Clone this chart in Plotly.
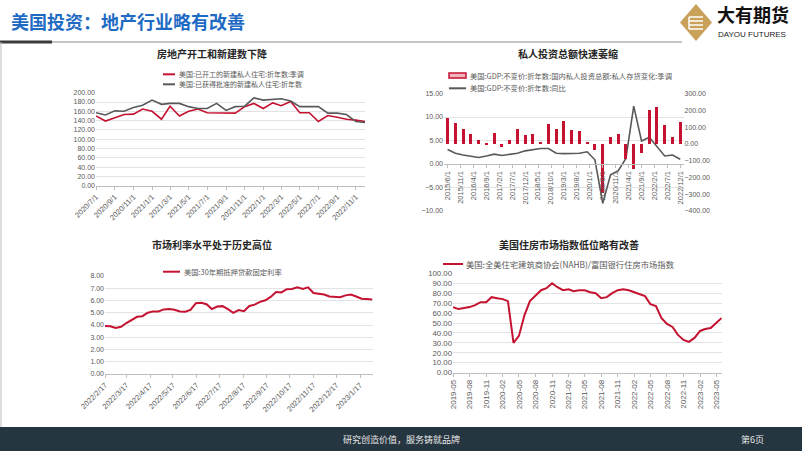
import plotly.graph_objects as go

W, H = 802, 451


def px(x):
    return x / W


def py(y):
    return 1 - y / H


RED = "#c41230"
GRAY_LINE = "#595959"
TICK_FONT = dict(family="Liberation Sans, Arial", size=7, color="#595959")
CJK = "Noto Sans CJK SC"

# ---- chart 1: housing starts / permits (monthly) ----
starts_dates = [
    "2020-07-01", "2020-08-01", "2020-09-01", "2020-10-01", "2020-11-01", "2020-12-01",
    "2021-01-01", "2021-02-01", "2021-03-01", "2021-04-01", "2021-05-01", "2021-06-01",
    "2021-07-01", "2021-08-01", "2021-09-01", "2021-10-01", "2021-11-01", "2021-12-01",
    "2022-01-01", "2022-02-01", "2022-03-01", "2022-04-01", "2022-05-01", "2022-06-01",
    "2022-07-01", "2022-08-01", "2022-09-01", "2022-10-01", "2022-11-01", "2022-12-01",
]
housing_starts = [150, 139, 146, 153, 154, 165, 160, 143, 171, 150, 160, 165,
                  157, 157, 156, 156, 170, 177, 166, 178, 172, 181, 157, 157,
                  138, 151, 147, 143, 141, 138]
building_permits = [157, 152, 161, 160, 168, 173, 184, 175, 177, 177, 170, 166,
                    166, 177, 162, 170, 171, 189, 184, 185, 187, 182, 170, 170,
                    170, 156, 156, 153, 138, 136]
c1_tickvals = ["2020-07-01", "2020-09-01", "2020-11-01", "2021-01-01", "2021-03-01",
               "2021-05-01", "2021-07-01", "2021-09-01", "2021-11-01", "2022-01-01",
               "2022-03-01", "2022-05-01", "2022-07-01", "2022-09-01", "2022-11-01"]
c1_ticktext = ["2020/7/1", "2020/9/1", "2020/11/1", "2021/1/1", "2021/3/1", "2021/5/1",
               "2021/7/1", "2021/9/1", "2021/11/1", "2022/1/1", "2022/3/1", "2022/5/1",
               "2022/7/1", "2022/9/1", "2022/11/1"]

# ---- chart 2: GDP inventories (bars, right) and GDP yoy (line, left) ----
gdp_dates = [
    "2015-06-01", "2015-09-01", "2015-12-01", "2016-03-01", "2016-06-01", "2016-09-01",
    "2016-12-01", "2017-03-01", "2017-06-01", "2017-09-01", "2017-12-01", "2018-03-01",
    "2018-06-01", "2018-09-01", "2018-12-01", "2019-03-01", "2019-06-01", "2019-09-01",
    "2019-12-01", "2020-03-01", "2020-06-01", "2020-09-01", "2020-12-01", "2021-03-01",
    "2021-06-01", "2021-09-01", "2021-12-01", "2022-03-01", "2022-06-01", "2022-09-01",
    "2022-12-01",
]
inventory_change = [160, 130, 94, 64, 28, 8, 70, -16, 24, 92, 58, 64,
                    12, 120, 92, 140, 88, 78, 12, -36, -290, 44, 64, -85,
                    -145, -50, 204, 220, 114, 44, 136]
gdp_yoy = [3.1, 2.3, 1.9, 1.7, 1.4, 1.7, 2.1, 1.8, 2.1, 2.3, 2.8, 3.0,
           3.3, 3.3, 2.3, 2.2, 2.2, 2.3, 2.6, 0.9, -8.4, -2.3, -1.4, 1.2,
           12.3, 4.9, 5.7, 3.6, 1.7, 1.9, 1.0]
c2_tickvals = ["2015-06-01", "2015-11-01", "2016-04-01", "2016-09-01", "2017-02-01",
               "2017-07-01", "2017-12-01", "2018-05-01", "2018-10-01", "2019-03-01",
               "2019-08-01", "2020-01-01", "2020-06-01", "2020-11-01", "2021-04-01",
               "2021-09-01", "2022-02-01", "2022-07-01", "2022-12-01"]
c2_ticktext = ["2015/6/1", "2015/11/1", "2016/4/1", "2016/9/1", "2017/2/1", "2017/7/1",
               "2017/12/1", "2018/5/1", "2018/10/1", "2019/3/1", "2019/8/1", "2020/1/1",
               "2020/6/1", "2020/11/1", "2021/4/1", "2021/9/1", "2022/2/1", "2022/7/1",
               "2022/12/1"]

# ---- chart 3: 30y mortgage rate (weekly) ----
mortgage_dates = [
    "2022-02-17", "2022-02-24", "2022-03-03", "2022-03-10", "2022-03-17", "2022-03-24",
    "2022-03-31", "2022-04-07", "2022-04-14", "2022-04-21", "2022-04-28", "2022-05-05",
    "2022-05-12", "2022-05-19", "2022-05-26", "2022-06-02", "2022-06-09", "2022-06-16",
    "2022-06-23", "2022-06-30", "2022-07-07", "2022-07-14", "2022-07-21", "2022-07-28",
    "2022-08-04", "2022-08-11", "2022-08-18", "2022-08-25", "2022-09-01", "2022-09-08",
    "2022-09-15", "2022-09-22", "2022-09-29", "2022-10-06", "2022-10-13", "2022-10-20",
    "2022-10-27", "2022-11-03", "2022-11-10", "2022-11-17", "2022-11-23", "2022-12-01",
    "2022-12-08", "2022-12-15", "2022-12-22", "2022-12-29", "2023-01-05", "2023-01-12",
    "2023-01-19", "2023-01-26", "2023-02-02",
]
mortgage_rate = [3.92, 3.89, 3.76, 3.85, 4.16, 4.42, 4.67, 4.72, 5.00, 5.11, 5.10, 5.27,
                 5.30, 5.25, 5.10, 5.09, 5.23, 5.78, 5.81, 5.70, 5.30, 5.51, 5.54, 5.30,
                 4.99, 5.22, 5.13, 5.55, 5.66, 5.89, 6.02, 6.29, 6.70, 6.66, 6.92, 6.94,
                 7.08, 6.95, 7.08, 6.61, 6.58, 6.49, 6.33, 6.31, 6.27, 6.42, 6.48, 6.33,
                 6.15, 6.13, 6.09]
c3_tickvals = ["2022-02-17", "2022-03-17", "2022-04-17", "2022-05-17", "2022-06-17",
               "2022-07-17", "2022-08-17", "2022-09-17", "2022-10-17", "2022-11-17",
               "2022-12-17", "2023-01-17"]
c3_ticktext = ["2022/2/17", "2022/3/17", "2022/4/17", "2022/5/17", "2022/6/17",
               "2022/7/17", "2022/8/17", "2022/9/17", "2022/10/17", "2022/11/17",
               "2022/12/17", "2023/1/17"]

# ---- chart 4: NAHB housing market index (monthly) ----
nahb_dates = [
    "2019-05-01", "2019-06-01", "2019-07-01", "2019-08-01", "2019-09-01", "2019-10-01",
    "2019-11-01", "2019-12-01", "2020-01-01", "2020-02-01", "2020-03-01", "2020-04-01",
    "2020-05-01", "2020-06-01", "2020-07-01", "2020-08-01", "2020-09-01", "2020-10-01",
    "2020-11-01", "2020-12-01", "2021-01-01", "2021-02-01", "2021-03-01", "2021-04-01",
    "2021-05-01", "2021-06-01", "2021-07-01", "2021-08-01", "2021-09-01", "2021-10-01",
    "2021-11-01", "2021-12-01", "2022-01-01", "2022-02-01", "2022-03-01", "2022-04-01",
    "2022-05-01", "2022-06-01", "2022-07-01", "2022-08-01", "2022-09-01", "2022-10-01",
    "2022-11-01", "2022-12-01", "2023-01-01", "2023-02-01", "2023-03-01", "2023-04-01",
    "2023-05-01", "2023-06-01",
]
nahb_index = [66, 64, 65, 66, 68, 71, 71, 76, 75, 74, 72, 30,
              37, 58, 72, 78, 83, 85, 90, 86, 83, 84, 82, 83,
              83, 81, 80, 75, 76, 80, 83, 84, 83, 81, 79, 77,
              69, 67, 55, 49, 46, 38, 33, 31, 35, 42, 44, 45,
              50, 55]
c4_tickvals = ["2019-05-01", "2019-08-01", "2019-11-01", "2020-02-01", "2020-05-01",
               "2020-08-01", "2020-11-01", "2021-02-01", "2021-05-01", "2021-08-01",
               "2021-11-01", "2022-02-01", "2022-05-01", "2022-08-01", "2022-11-01",
               "2023-02-01", "2023-05-01"]
c4_ticktext = ["2019-05", "2019-08", "2019-11", "2020-02", "2020-05", "2020-08",
               "2020-11", "2021-02", "2021-05", "2021-08", "2021-11", "2022-02",
               "2022-05", "2022-08", "2022-11", "2023-02", "2023-05"]

fig = go.Figure()

# chart 1
fig.add_trace(go.Scatter(x=starts_dates, y=housing_starts, mode="lines",
                         line=dict(color=RED, width=1.6), xaxis="x", yaxis="y"))
fig.add_trace(go.Scatter(x=starts_dates, y=building_permits, mode="lines",
                         line=dict(color=GRAY_LINE, width=1.6), xaxis="x", yaxis="y"))

# chart 2
fig.add_trace(go.Bar(x=gdp_dates, y=inventory_change, marker=dict(color=RED, line=dict(width=0)),
                     width=3.2e9, xaxis="x2", yaxis="y3"))
fig.add_trace(go.Scatter(x=gdp_dates, y=gdp_yoy, mode="lines",
                         line=dict(color=GRAY_LINE, width=1.6), xaxis="x2", yaxis="y2"))

# chart 3
fig.add_trace(go.Scatter(x=mortgage_dates, y=mortgage_rate, mode="lines",
                         line=dict(color=RED, width=2), xaxis="x3", yaxis="y4"))

# chart 4
fig.add_trace(go.Scatter(x=nahb_dates, y=nahb_index, mode="lines",
                         line=dict(color=RED, width=2), xaxis="x4", yaxis="y5"))

grid = "#e3e3e3"
axis_line = "#bfbfbf"

xcommon = dict(type="date", showgrid=False, showline=True, linecolor=axis_line, linewidth=1,
               ticks="outside", ticklen=3, tickcolor=axis_line,
               tickfont=dict(TICK_FONT, size=7.5),
               zeroline=False, fixedrange=True, automargin=False)
ycommon = dict(showgrid=True, gridcolor=grid, gridwidth=1, zeroline=False, showline=False,
               tickfont=TICK_FONT, tickformat=".2f", ticks="", fixedrange=True,
               automargin=False)

fig.update_layout(
    template="plotly_white",
    width=W, height=H, margin=dict(l=0, r=0, t=0, b=0, autoexpand=False),
    paper_bgcolor="white", plot_bgcolor="white", showlegend=False, bargap=0,
    xaxis=dict(xcommon, domain=[px(96), px(365)], anchor="y",
               range=["2020-07-01", "2022-12-01"], tickvals=c1_tickvals,
               ticktext=c1_ticktext, tickangle=-45),
    yaxis=dict(ycommon, domain=[py(185.7), py(92.7)], anchor="x",
               range=[0, 200], dtick=20),
    xaxis2=dict(xcommon, domain=[px(444), px(683.5)], anchor="free", position=py(164),
                range=["2015-04-20", "2023-01-08"], tickvals=c2_tickvals,
                ticktext=c2_ticktext, tickangle=-90),
    yaxis2=dict(ycommon, domain=[py(211), py(93.5)], anchor="x2",
                range=[-10, 15], dtick=5),
    yaxis3=dict(ycommon, overlaying="y2", side="right", anchor="x2", showgrid=False,
                range=[-400, 300], dtick=100),
    xaxis3=dict(xcommon, domain=[px(105), px(373)], anchor="y4",
                range=["2022-02-17", "2023-02-03"], tickvals=c3_tickvals,
                ticktext=c3_ticktext, tickangle=-45),
    yaxis4=dict(ycommon, domain=[py(374), py(276)], anchor="x3",
                range=[0, 8], dtick=1),
    xaxis4=dict(xcommon, domain=[px(453), px(721.7)], anchor="y5",
                range=["2019-05-01", "2023-06-01"], tickvals=c4_tickvals,
                ticktext=c4_ticktext, tickangle=-90,
                tickfont=dict(TICK_FONT, size=8)),
    yaxis5=dict(ycommon, domain=[py(372.7), py(273.3)], anchor="x4",
                range=[0, 100], dtick=10,
                tickfont=dict(TICK_FONT, size=7.8)),
)

shapes = []
ann = []


def text(x, y, s, size, color="#262626", bold=False, xanchor="center", family=CJK):
    ann.append(dict(x=px(x), y=py(y), xref="paper", yref="paper", showarrow=False,
                    text=f"<b>{s}</b>" if bold else s, xanchor=xanchor, yanchor="middle",
                    font=dict(family=family, size=size, color=color)))


def line(x0, y0, x1, y1, color, width):
    shapes.append(dict(type="line", xref="paper", yref="paper", x0=px(x0), y0=py(y0),
                       x1=px(x1), y1=py(y1), line=dict(color=color, width=width)))


def rect(x0, y0, x1, y1, fill, lcolor=None, lwidth=0):
    shapes.append(dict(type="rect", xref="paper", yref="paper", x0=px(x0), y0=py(y0),
                       x1=px(x1), y1=py(y1), fillcolor=fill,
                       line=dict(color=lcolor or fill, width=lwidth), layer="above"))


# header
text(9, 21, "美国投资：地产行业略有改善", 18, color="#1f6bc4", bold=True, xanchor="left")
line(0, 42, 682, 42, "#8c8c8c", 1.2)
line(0, 42, 52, 42, "#3a3a3a", 3)
line(1, 42, 1, 427, "#bdbdbd", 1)

# logo
shapes.append(dict(type="path", xref="paper", yref="paper",
                   path=f"M {px(696)} {py(4)} L {px(712)} {py(22.5)} L {px(696)} {py(41)} "
                        f"L {px(680)} {py(22.5)} Z",
                   fillcolor="#c9a15a", line=dict(width=0)))
for yy in (17, 21, 25, 29):
    line(689, yy, 703, yy, "white", 1.5)
line(689, 17, 689, 29, "white", 1.5)
text(715, 14.5, "大有期货", 18, color="#111111", bold=True, xanchor="left")
text(716, 34.5, "DAYOU FUTURES", 8, color="#222222", xanchor="left",
     family="Liberation Sans, Arial")

# footer
rect(0, 427, 802, 451, "#263640")
text(401, 439, "研究创造价值，服务铸就品牌", 9, color="#e8e8e8")
text(752, 439, "第6页", 9, color="#e8e8e8")

# chart titles
text(212, 53, "房地产开工和新建数下降", 10, bold=True)
text(568, 53, "私人投资总额快速萎缩", 10, bold=True)
text(212, 244, "市场利率水平处于历史高位", 10, bold=True)
text(569, 244, "美国住房市场指数低位略有改善", 10, bold=True)

# chart 1 legend
line(163, 74.3, 175, 74.3, RED, 2)
text(177, 74.3, "美国:已开工的新建私人住宅:折年数:季调", 7, color="#595959", xanchor="left")
line(163, 84.3, 175, 84.3, GRAY_LINE, 2)
text(177, 84.3, "美国:已获得批准的新建私人住宅:折年数", 7, color="#595959", xanchor="left")

# chart 2 legend
rect(449, 73, 466, 78, "#f2b4bd", RED, 1.5)
text(468, 75.5, "美国:GDP:不变价:折年数:国内私人投资总额:私人存货变化:季调", 7.3,
     color="#595959", xanchor="left")
line(449, 88.3, 466, 88.3, GRAY_LINE, 2)
text(468, 88.3, "美国:GDP:不变价:折年数:同比", 7.3, color="#595959", xanchor="left")

# chart 3 legend
line(163, 271.7, 180, 271.7, RED, 2)
text(182, 271.7, "美国:30年期抵押贷款固定利率", 7.3, color="#595959", xanchor="left")

# chart 4 legend
line(443, 264, 463, 264, RED, 2)
text(464, 264, "美国:全美住宅建筑商协会(NAHB)/富国银行住房市场指数", 8.3,
     color="#595959", xanchor="left")

fig.update_layout(shapes=shapes, annotations=ann)
# the page body has a default 8px margin; drop it so the slide sits at the corner
fig.write_html("out.html", config={"displayModeBar": False},
               post_script="document.body.style.margin='0';")
